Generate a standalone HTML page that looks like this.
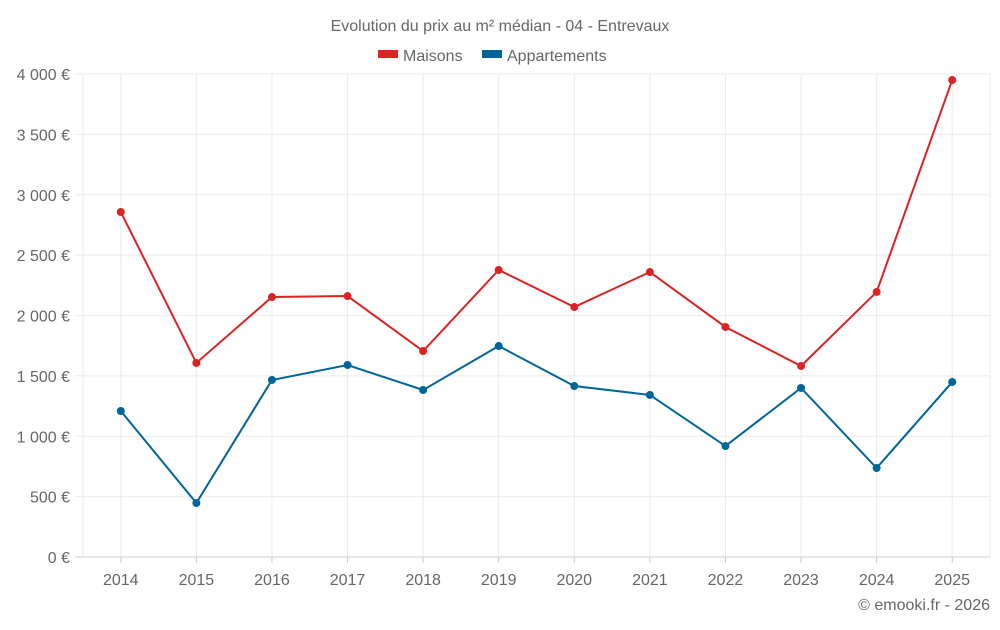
<!DOCTYPE html>
<html><head><meta charset="utf-8"><style>
body{margin:0;background:#fff;font-family:"Liberation Sans",sans-serif;}
svg text{font-family:"Liberation Sans",sans-serif;fill:#666;}
</style></head><body>
<svg id="c" width="1000" height="625">
<text x="500" y="31" text-anchor="middle" font-size="16">Evolution du prix au m² médian - 04 - Entrevaux</text>
<g>
<g><rect x="378" y="50" width="20" height="8" fill="#dd2222"/><text x="403" y="61" font-size="16">Maisons</text></g>
<g><rect x="482" y="50" width="20" height="8" fill="#006699"/><text x="507" y="61" font-size="16">Appartements</text></g>
</g>
<g id="grid"></g><g id="axes"></g><g id="series"></g>
<text x="990" y="610" text-anchor="end" font-size="16">© emooki.fr - 2026</text>
</svg>
<script>
const years=['2014','2015','2016','2017','2018','2019','2020','2021','2022','2023','2024','2025'];
const maisons=[2857,1607,2153,2161,1706,2377,2070,2360,1905,1582,2195,3950];
const appartements=[1209,447,1466,1590,1383,1747,1416,1342,919,1400,737,1449];
const yTicks=[0,500,1000,1500,2000,2500,3000,3500,4000];
const yTickLabels=['0 €','500 €','1 000 €','1 500 €','2 000 €','2 500 €','3 000 €','3 500 €','4 000 €'];
const NS='http://www.w3.org/2000/svg';
const L=83,R=990,T=74,B=557;
const bw=(R-L)/years.length;
const x=i=>L+bw*(i+0.5);
const y=v=>B-(v/4000)*(B-T);
function mk(tag,attrs,parent){const e=document.createElementNS(NS,tag);for(const k in attrs)e.setAttribute(k,attrs[k]);parent.appendChild(e);return e;}
const grid=document.getElementById('grid'),axes=document.getElementById('axes'),ser=document.getElementById('series');
yTicks.forEach((t,i)=>{
 const ln=mk('line',{x1:75,x2:R,y1:y(t),y2:y(t),stroke:t===0?'#ccc':'#ebebeb','stroke-width':1},grid);
 
 
 const tx=mk('text',{x:70,y:y(t)+6,'text-anchor':'end','font-size':16},axes);
 tx.textContent=yTickLabels[i];
 
 
});
[L,R].forEach(gx=>{
 const ln=mk('line',{x1:gx,x2:gx,y1:T,y2:B,stroke:'#ebebeb'},grid);
 
 
});
years.forEach((yr,i)=>{
 const gl=mk('line',{x1:x(i),x2:x(i),y1:T,y2:B,stroke:'#ebebeb'},grid);
 
 
 const tk=mk('line',{x1:x(i),x2:x(i),y1:B,y2:B+6,stroke:'#ccc'},axes);
 
 
 const tx=mk('text',{x:x(i),y:585,'text-anchor':'middle','font-size':16},axes);
 tx.textContent=yr;
 
 
});
function draw(vals,color,name){
 const p=mk('polyline',{points:vals.map((v,i)=>x(i)+','+y(v)).join(' '),fill:'none',stroke:color,'stroke-width':2},ser);
 
 
 vals.forEach((v,i)=>{
  const c=mk('circle',{cx:x(i),cy:y(v),r:4,fill:color},ser);
  
  
 });
}
draw(maisons,'#dd2222','maisons');
draw(appartements,'#006699','appartements');
</script>
</body></html>
